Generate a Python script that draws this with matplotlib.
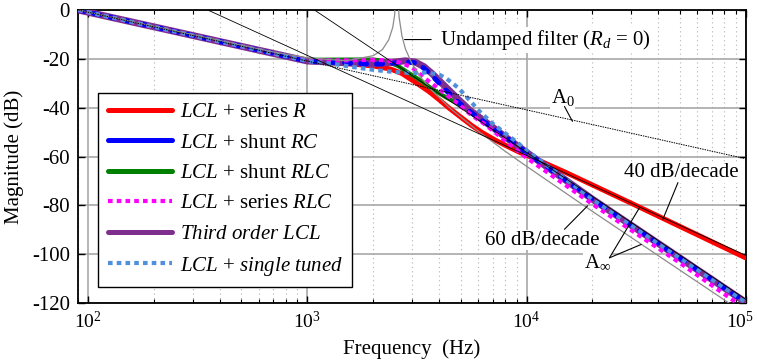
import matplotlib
matplotlib.use("Agg")
import matplotlib.pyplot as plt
import matplotlib.transforms as mtransforms
from matplotlib.lines import Line2D
from matplotlib.ticker import LogLocator, NullFormatter

plt.rcParams['font.family'] = ['Liberation Serif', 'DejaVu Serif']
plt.rcParams['mathtext.fontset'] = 'custom'
plt.rcParams['mathtext.rm'] = 'Liberation Serif'
plt.rcParams['mathtext.it'] = 'Liberation Serif:italic'
plt.rcParams['axes.unicode_minus'] = False

# frequency (Hz) / magnitude (dB)
f_red = [90, 700, 1000, 1500, 2000, 2400, 2700, 3100, 3600, 4000, 4450, 5000, 5600, 6300,
         7200, 8000, 9300, 11000, 15000, 30000, 100000]
db_red = [0, -17.8, -20.9, -21.9, -22.9, -24.2, -26, -29.5, -33.5, -36.8, -40.3, -43.8, -47.2,
          -50.3, -53.3, -55.4, -58.3, -61, -66.4, -79.1, -101.5]

f_green = [90, 700, 1000, 1500, 2000, 2300, 2600, 2900, 3300, 3800, 4300, 5000, 6000, 7000,
           8000, 10000, 20000, 50000, 100000]
db_green = [0, -17.8, -20.4, -20.3, -20.3, -21, -23, -25.8, -29, -33, -35.8, -39, -43.8, -48,
            -52, -58.4, -77.5, -101.5, -119.7]

f_purple = [90, 700, 1000, 1500, 2000, 2400, 2800, 3100, 3400, 3700, 4000, 4500, 5000, 5500,
            6100, 7000, 8000, 10000, 20000, 50000, 100000]
db_purple = [0, -17.8, -20.9, -21.6, -22.0, -21.5, -20.8, -21.3, -23.2, -26, -29, -33.5, -37.5,
             -41, -44, -48, -52, -58.3, -77.5, -101.5, -119.7]

f_blue = [90, 700, 1000, 1500, 2000, 2400, 2800, 3100, 3400, 3700, 4000, 4300, 4800, 5300,
          6100, 7000, 7800, 8700, 10000, 20000, 50000, 100000]
db_blue = [0, -17.8, -20.9, -21.7, -22.2, -21.9, -21.2, -21.6, -23.8, -26.8, -30, -33, -37.2,
           -40.5, -44.5, -48.3, -51.3, -54.3, -58.4, -77.5, -101.5, -119.7]

f_mag = [90, 700, 1000, 1500, 2000, 2300, 2650, 3000, 3500, 4000, 4500, 5000, 5600, 6500,
         7500, 8500, 10000, 20000, 50000, 100000]
db_mag = [0, -17.8, -20.7, -20.6, -20.4, -20.6, -21.5, -23.5, -28.5, -32.5, -36, -39.3, -43,
          -47, -51.5, -55.5, -60.5, -79.5, -103.5, -122.5]

f_tuned = [90, 700, 1000, 1300, 1600, 2000, 2500, 3000, 3500, 4000, 4300, 4900, 5500, 6100,
           7000, 8000, 9000, 10000, 20000, 50000, 100000]
db_tuned = [0, -17.8, -20.9, -22, -23.3, -24.5, -25.4, -25.8, -25.6, -26.5, -28, -32, -37,
            -41.5, -46.5, -50.5, -54, -57.5, -77.5, -101.5, -119.7]

f_undamped = [90, 700, 1000, 1500, 2000, 2200, 2350, 2450, 2500, 2540, 2580, 2620, 2700, 2800,
              3000, 3300, 3700, 4500, 6000, 8000, 10000, 20000, 50000, 100000]
db_undamped = [0, -17.2, -19.6, -20.8, -18.7, -16.2, -12.2, -7.2, -2.2, 8, 7, -2.8, -10.6,
               -15.9, -22, -27.7, -33, -40.4, -49.5, -57.9, -64, -82.5, -106.5, -124.6]

# asymptotes
f_a0 = [90, 100000]
db_a0 = [0, -60.9]
f_a40 = [351, 100000]
db_a40 = [0, -100.5]
f_a60 = [1077, 100000]
db_a60 = [0, -118.5]

labels = [r'$LCL$ + series $R$', r'$LCL$ + shunt $RC$', r'$LCL$ + shunt $RLC$',
          r'$LCL$ + series $RLC$', r'$Third\ order\ LCL$', r'$LCL$ + $single\ tuned$']
colors = ['#ff0000', '#0000ff', '#008000', '#ff00ff', '#7e2f8e', '#4f8fdc']
yticks = [-120, -100, -80, -60, -40, -20, 0]
xticks = [1e2, 1e3, 1e4, 1e5]
xticklabels = [r'$10^2$', r'$10^3$', r'$10^4$', r'$10^5$']

fig = plt.figure(figsize=(7.57, 3.64), dpi=100)
ax = fig.add_axes([0.1034, 0.1676, 0.8816, 0.8049])

dots = (0, (1.1, 1.0))
ax.plot(f_red, db_red, color=colors[0], lw=3.6, solid_capstyle='round', zorder=3)
ax.plot(f_green, db_green, color=colors[2], lw=3.0, zorder=4)
ax.plot(f_purple, db_purple, color=colors[4], lw=5.0, zorder=5)
ax.plot(f_blue, db_blue, color=colors[1], lw=3.6, linestyle=(0, (1.2, 2.0)),
        dash_capstyle='round', zorder=6)
ax.plot(f_mag, db_mag, color=colors[3], lw=3.0, linestyle=dots, zorder=7)
ax.plot(f_tuned, db_tuned, color=colors[5], lw=3.0, linestyle=dots, zorder=8)
ax.plot(f_undamped, db_undamped, color='#8c8c8c', lw=0.9, zorder=9)
ax.plot(f_a0, db_a0, color='black', lw=0.7, linestyle=(0, (1.5, 1)), zorder=10)
ax.plot(f_a40, db_a40, color='black', lw=0.6, zorder=10)
ax.plot(f_a60, db_a60, color='black', lw=0.6, zorder=10)

ax.set_xscale('log')
ax.set_xlim(90, 1e5)
ax.set_ylim(-120, 0)
ax.set_yticks(yticks)
ax.set_yticklabels([str(v) for v in yticks])
ax.set_xticks(xticks)
ax.set_xticklabels(xticklabels)
ax.xaxis.set_minor_locator(LogLocator(base=10, subs=range(2, 10)))
ax.xaxis.set_minor_formatter(NullFormatter())

ax.grid(True, which='major', color='#a8a8a8', lw=1.2, zorder=0)
ax.grid(True, which='minor', axis='x', color='#b4b4b4', lw=0.8,
        linestyle=(0, (1, 3)), zorder=0)
ax.set_axisbelow(True)

ax.tick_params(which='both', direction='in', top=True, right=True)
ax.tick_params(axis='y', labelsize=15)
ax.tick_params(axis='x', labelsize=14)
ax.tick_params(which='major', length=5, width=1, pad=6)
ax.tick_params(which='minor', length=3, width=0.8)
for s in ax.spines.values():
    s.set_linewidth(1.3)

# last x label sits against the right edge in the original
last = ax.get_xticklabels()[-1]
last.set_transform(last.get_transform() +
                   mtransforms.ScaledTranslation(-0.06, 0, fig.dpi_scale_trans))

ax.set_xlabel('Frequency  (Hz)', fontsize=15, labelpad=5)
ax.set_ylabel('Magnitude (dB)', fontsize=15, labelpad=6)

# legend with proxy handles (blue shown solid in legend)
handles = [
    Line2D([], [], color=colors[0], lw=3.6, solid_capstyle='round'),
    Line2D([], [], color=colors[1], lw=3.6, solid_capstyle='round'),
    Line2D([], [], color=colors[2], lw=3.6, solid_capstyle='round'),
    Line2D([], [], color=colors[3], lw=3.0, linestyle=dots),
    Line2D([], [], color=colors[4], lw=3.6, solid_capstyle='round'),
    Line2D([], [], color=colors[5], lw=3.0, linestyle=dots),
]
leg = ax.legend(handles, labels, loc='upper left', bbox_to_anchor=(0.030, 0.716),
                borderaxespad=0, fontsize=15, handlelength=3.1, handletextpad=0.35,
                labelspacing=0.52, borderpad=0.45, fancybox=False, framealpha=1,
                edgecolor='black')
leg.get_frame().set_linewidth(1.0)
leg.set_zorder(20)

box = dict(facecolor='white', edgecolor='none', pad=0.5)
ax.text(4010, -12.3, r'Undamped filter ($R_d$ = 0)', fontsize=15, ha='left', va='center',
        bbox=box, zorder=12)
ax.text(14600, -35.8, r'A$_0$', fontsize=15, ha='center', va='center', bbox=box, zorder=12)
ax.text(50800, -66.7, '40 dB/decade', fontsize=15, ha='center', va='center', bbox=box, zorder=12)
ax.text(11800, -94.2, '60 dB/decade', fontsize=15, ha='center', va='center', bbox=box, zorder=12)
ax.text(21100, -103.7, r'A$_\infty$', fontsize=15, ha='center', va='center', bbox=box, zorder=12)

ptr = dict(arrowstyle='-', color='black', lw=0.8, shrinkA=0, shrinkB=0)
ax.annotate('', xy=(3670, -12.1), xytext=(2775, -12.1), arrowprops=ptr, zorder=12)
ax.annotate('', xy=(16200, -45.6), xytext=(14900, -39.5), arrowprops=ptr, zorder=12)
ax.annotate('', xy=(41900, -85.7), xytext=(49100, -70.7), arrowprops=ptr, zorder=12)
ax.annotate('', xy=(19000, -80.2), xytext=(14900, -89.8), arrowprops=ptr, zorder=12)
ax.annotate('', xy=(32800, -80.9), xytext=(23900, -101.5), arrowprops=ptr, zorder=12)
ax.annotate('', xy=(33400, -96.0), xytext=(23900, -101.5), arrowprops=ptr, zorder=12)

fig.savefig('out.png', dpi=100)
